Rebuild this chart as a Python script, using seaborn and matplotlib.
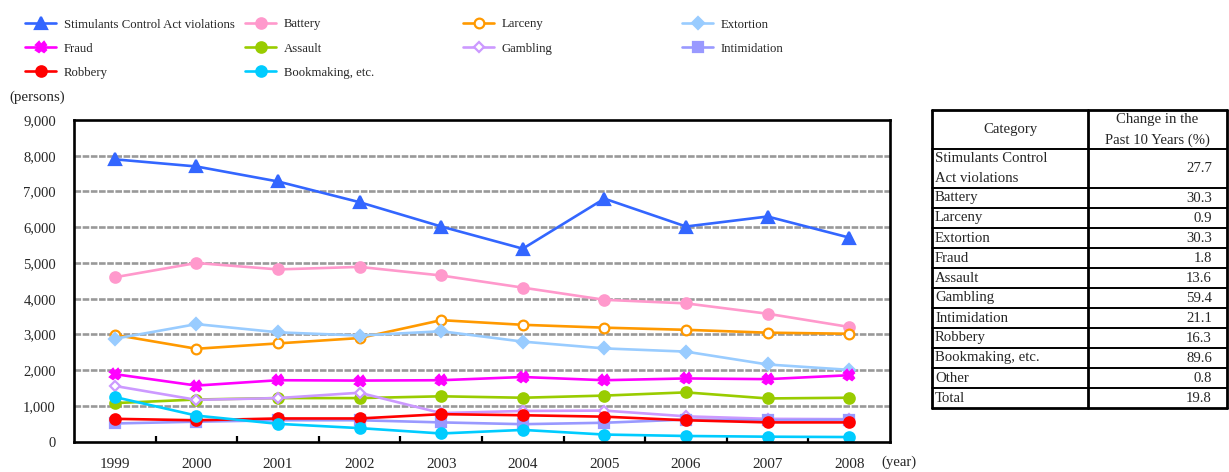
import matplotlib
matplotlib.use("Agg")
import matplotlib.pyplot as plt
from matplotlib.lines import Line2D
import seaborn as sns
import pandas as pd

years = [1999, 2000, 2001, 2002, 2003, 2004, 2005, 2006, 2007, 2008]

stimulants = [7900, 7700, 7280, 6700, 6020, 5400, 6800, 6020, 6300, 5710]
battery = [4600, 5000, 4820, 4890, 4650, 4310, 3970, 3870, 3580, 3210]
larceny = [2990, 2600, 2750, 2900, 3400, 3270, 3190, 3130, 3050, 3020]
extortion = [2880, 3290, 3060, 2970, 3090, 2800, 2610, 2520, 2160, 2010]
fraud = [1890, 1570, 1720, 1710, 1720, 1810, 1720, 1770, 1750, 1860]
assault = [1080, 1180, 1220, 1220, 1270, 1230, 1290, 1380, 1210, 1230]
gambling = [1560, 1170, 1220, 1370, 800, 860, 870, 710, 640, 630]
intimidation = [510, 560, 600, 600, 540, 490, 530, 620, 600, 620]
robbery = [640, 600, 650, 650, 770, 740, 700, 600, 540, 540]
bookmaking = [1250, 730, 500, 380, 230, 330, 200, 160, 140, 130]

series_names = ["Stimulants Control Act violations", "Battery", "Larceny", "Extortion",
                "Fraud", "Assault", "Gambling", "Intimidation", "Robbery", "Bookmaking, etc."]
series_values = [stimulants, battery, larceny, extortion, fraud, assault,
                 gambling, intimidation, robbery, bookmaking]

table_categories = ["Stimulants Control\nAct violations", "Battery", "Larceny", "Extortion",
                    "Fraud", "Assault", "Gambling", "Intimidation", "Robbery",
                    "Bookmaking, etc.", "Other", "Total"]
table_changes = ["27.7", "30.3", "0.9", "30.3", "1.8", "13.6", "59.4", "21.1",
                 "16.3", "89.6", "0.8", "19.8"]

styles = {
    "Stimulants Control Act violations": dict(color="#3366FF", marker="^", mfc="#3366FF", ms=8),
    "Battery": dict(color="#FF99CC", marker="o", mfc="#FF99CC", ms=7.5),
    "Larceny": dict(color="#FF9900", marker="o", mfc="white", ms=7),
    "Extortion": dict(color="#99CCFF", marker="D", mfc="#99CCFF", ms=6.5),
    "Fraud": dict(color="#FF00FF", marker="X", mfc="#FF00FF", ms=7.2),
    "Assault": dict(color="#99CC00", marker="o", mfc="#99CC00", ms=7.5),
    "Gambling": dict(color="#CC99FF", marker="D", mfc="white", ms=5.5),
    "Intimidation": dict(color="#9999FF", marker="s", mfc="#9999FF", ms=7),
    "Robbery": dict(color="#FF0000", marker="o", mfc="#FF0000", ms=7.5),
    "Bookmaking, etc.": dict(color="#00CCFF", marker="o", mfc="#00CCFF", ms=7.5),
}

sns.set_style("white")
plt.rcParams["font.family"] = ["Liberation Serif", "DejaVu Serif"]
plt.rcParams["font.size"] = 10

W, H = 1229, 472
fig = plt.figure(figsize=(W / 100, H / 100), dpi=100)


def fx(x):
    return x / W


def fy(y):
    return 1 - y / H


# plot area
ax = fig.add_axes([fx(74), fy(441.7), fx(890) - fx(74), fy(120) - fy(441.7)])

rows = []
for name, vals in zip(series_names, series_values):
    for yr, v in zip(years, vals):
        rows.append({"year": yr, "count": v, "category": name})
df = pd.DataFrame(rows)

for name in series_names:
    st = styles[name]
    sub = df[df["category"] == name]
    sns.lineplot(data=sub, x="year", y="count", ax=ax, color=st["color"], lw=1.9,
                 marker=st["marker"], markersize=st["ms"],
                 markerfacecolor=st["mfc"], markeredgecolor=st["color"],
                 markeredgewidth=1.6, label=name, legend=False)

ax.set_xlim(1998.5, 2008.5)
ax.set_ylim(0, 9000)
ax.set_xlabel("")
ax.set_ylabel("")
ax.set_xticks(years)
ax.set_xticklabels([str(y) for y in years])
ax.set_xticks([y + 0.5 for y in years[:-1]], minor=True)
ax.set_yticks(range(0, 9001, 1000))
ax.set_yticklabels([f"{v:,}" for v in range(0, 9001, 1000)])

for yv in range(1000, 9000, 1000):
    ax.axhline(yv, color="#999999", lw=1.9, ls=(0, (2.5, 0.6)), zorder=0.5)

for sp in ax.spines.values():
    sp.set_visible(True)
    sp.set_color("black")
    sp.set_linewidth(1.9)

ax.tick_params(axis="x", which="major", length=0, pad=12, labelsize=11)
ax.tick_params(axis="x", which="minor", direction="in", length=4, width=1.6,
               color="black", bottom=True)
ax.tick_params(axis="y", which="major", direction="in", length=3, width=1.2,
               color="black", pad=13, labelsize=10.5)

fig.text(fx(9), fy(97), "(persons)", ha="left", va="center", fontsize=10.8)
fig.text(fx(881), fy(462), "(year)", ha="left", va="center", fontsize=10.6)

# legend laid out as four columns
handles = {}
for name in series_names:
    st = styles[name]
    handles[name] = Line2D([], [], color=st["color"], lw=1.9, marker=st["marker"],
                           markersize=st["ms"], markerfacecolor=st["mfc"],
                           markeredgecolor=st["color"], markeredgewidth=1.6)
columns = [
    (25, ["Stimulants Control Act violations", "Fraud", "Robbery"]),
    (245, ["Battery", "Assault", "Bookmaking, etc."]),
    (463, ["Larceny", "Gambling"]),
    (682, ["Extortion", "Intimidation"]),
]
for xpix, names in columns:
    fig.legend([handles[n] for n in names], names, loc="upper left",
               bbox_to_anchor=(fx(xpix), fy(18.5)), frameon=False, borderpad=0,
               borderaxespad=0, handlelength=2.45, handletextpad=0.6,
               labelspacing=0.95, fontsize=9.2)

# summary table on the right
x0, x1, x2 = 932, 1088, 1227
row_edges = [110, 149, 188] + [188 + 20 * i for i in range(1, 12)]
outer_lw, inner_lw = 2.0, 1.4
tfs = 10.6


def hline(y, xa, xb, lw):
    fig.add_artist(Line2D([fx(xa), fx(xb)], [fy(y), fy(y)], color="black", lw=lw))


def vline(x, ya, yb, lw):
    fig.add_artist(Line2D([fx(x), fx(x)], [fy(ya), fy(yb)], color="black", lw=lw))


for i, y in enumerate(row_edges):
    lw = outer_lw if i in (0, len(row_edges) - 1) else inner_lw
    hline(y, x0, x2, lw)
vline(x0, row_edges[0], row_edges[-1], outer_lw)
vline(x2, row_edges[0], row_edges[-1], outer_lw)
vline(x1, row_edges[0], row_edges[-1], outer_lw)

fig.text(fx((x0 + x1) / 2), fy(129.5), "Category", ha="center", va="center", fontsize=tfs)
fig.text(fx((x1 + x2) / 2), fy(120), "Change in the", ha="center", va="center", fontsize=tfs)
fig.text(fx((x1 + x2) / 2), fy(140), "Past 10 Years (%)", ha="center", va="center", fontsize=tfs)

for i, (cat, val) in enumerate(zip(table_categories, table_changes)):
    top, bot = row_edges[i + 1], row_edges[i + 2]
    mid = (top + bot) / 2
    if "\n" in cat:
        l1, l2 = cat.split("\n")
        fig.text(fx(935), fy(mid - 9.5), l1, ha="left", va="center", fontsize=tfs)
        fig.text(fx(935), fy(mid + 9.5), l2, ha="left", va="center", fontsize=tfs)
    else:
        fig.text(fx(935), fy(mid), cat, ha="left", va="center", fontsize=tfs)
    fig.text(fx(1212), fy(mid), val, ha="right", va="center", fontsize=tfs)

fig.savefig("out.png", dpi=100)
